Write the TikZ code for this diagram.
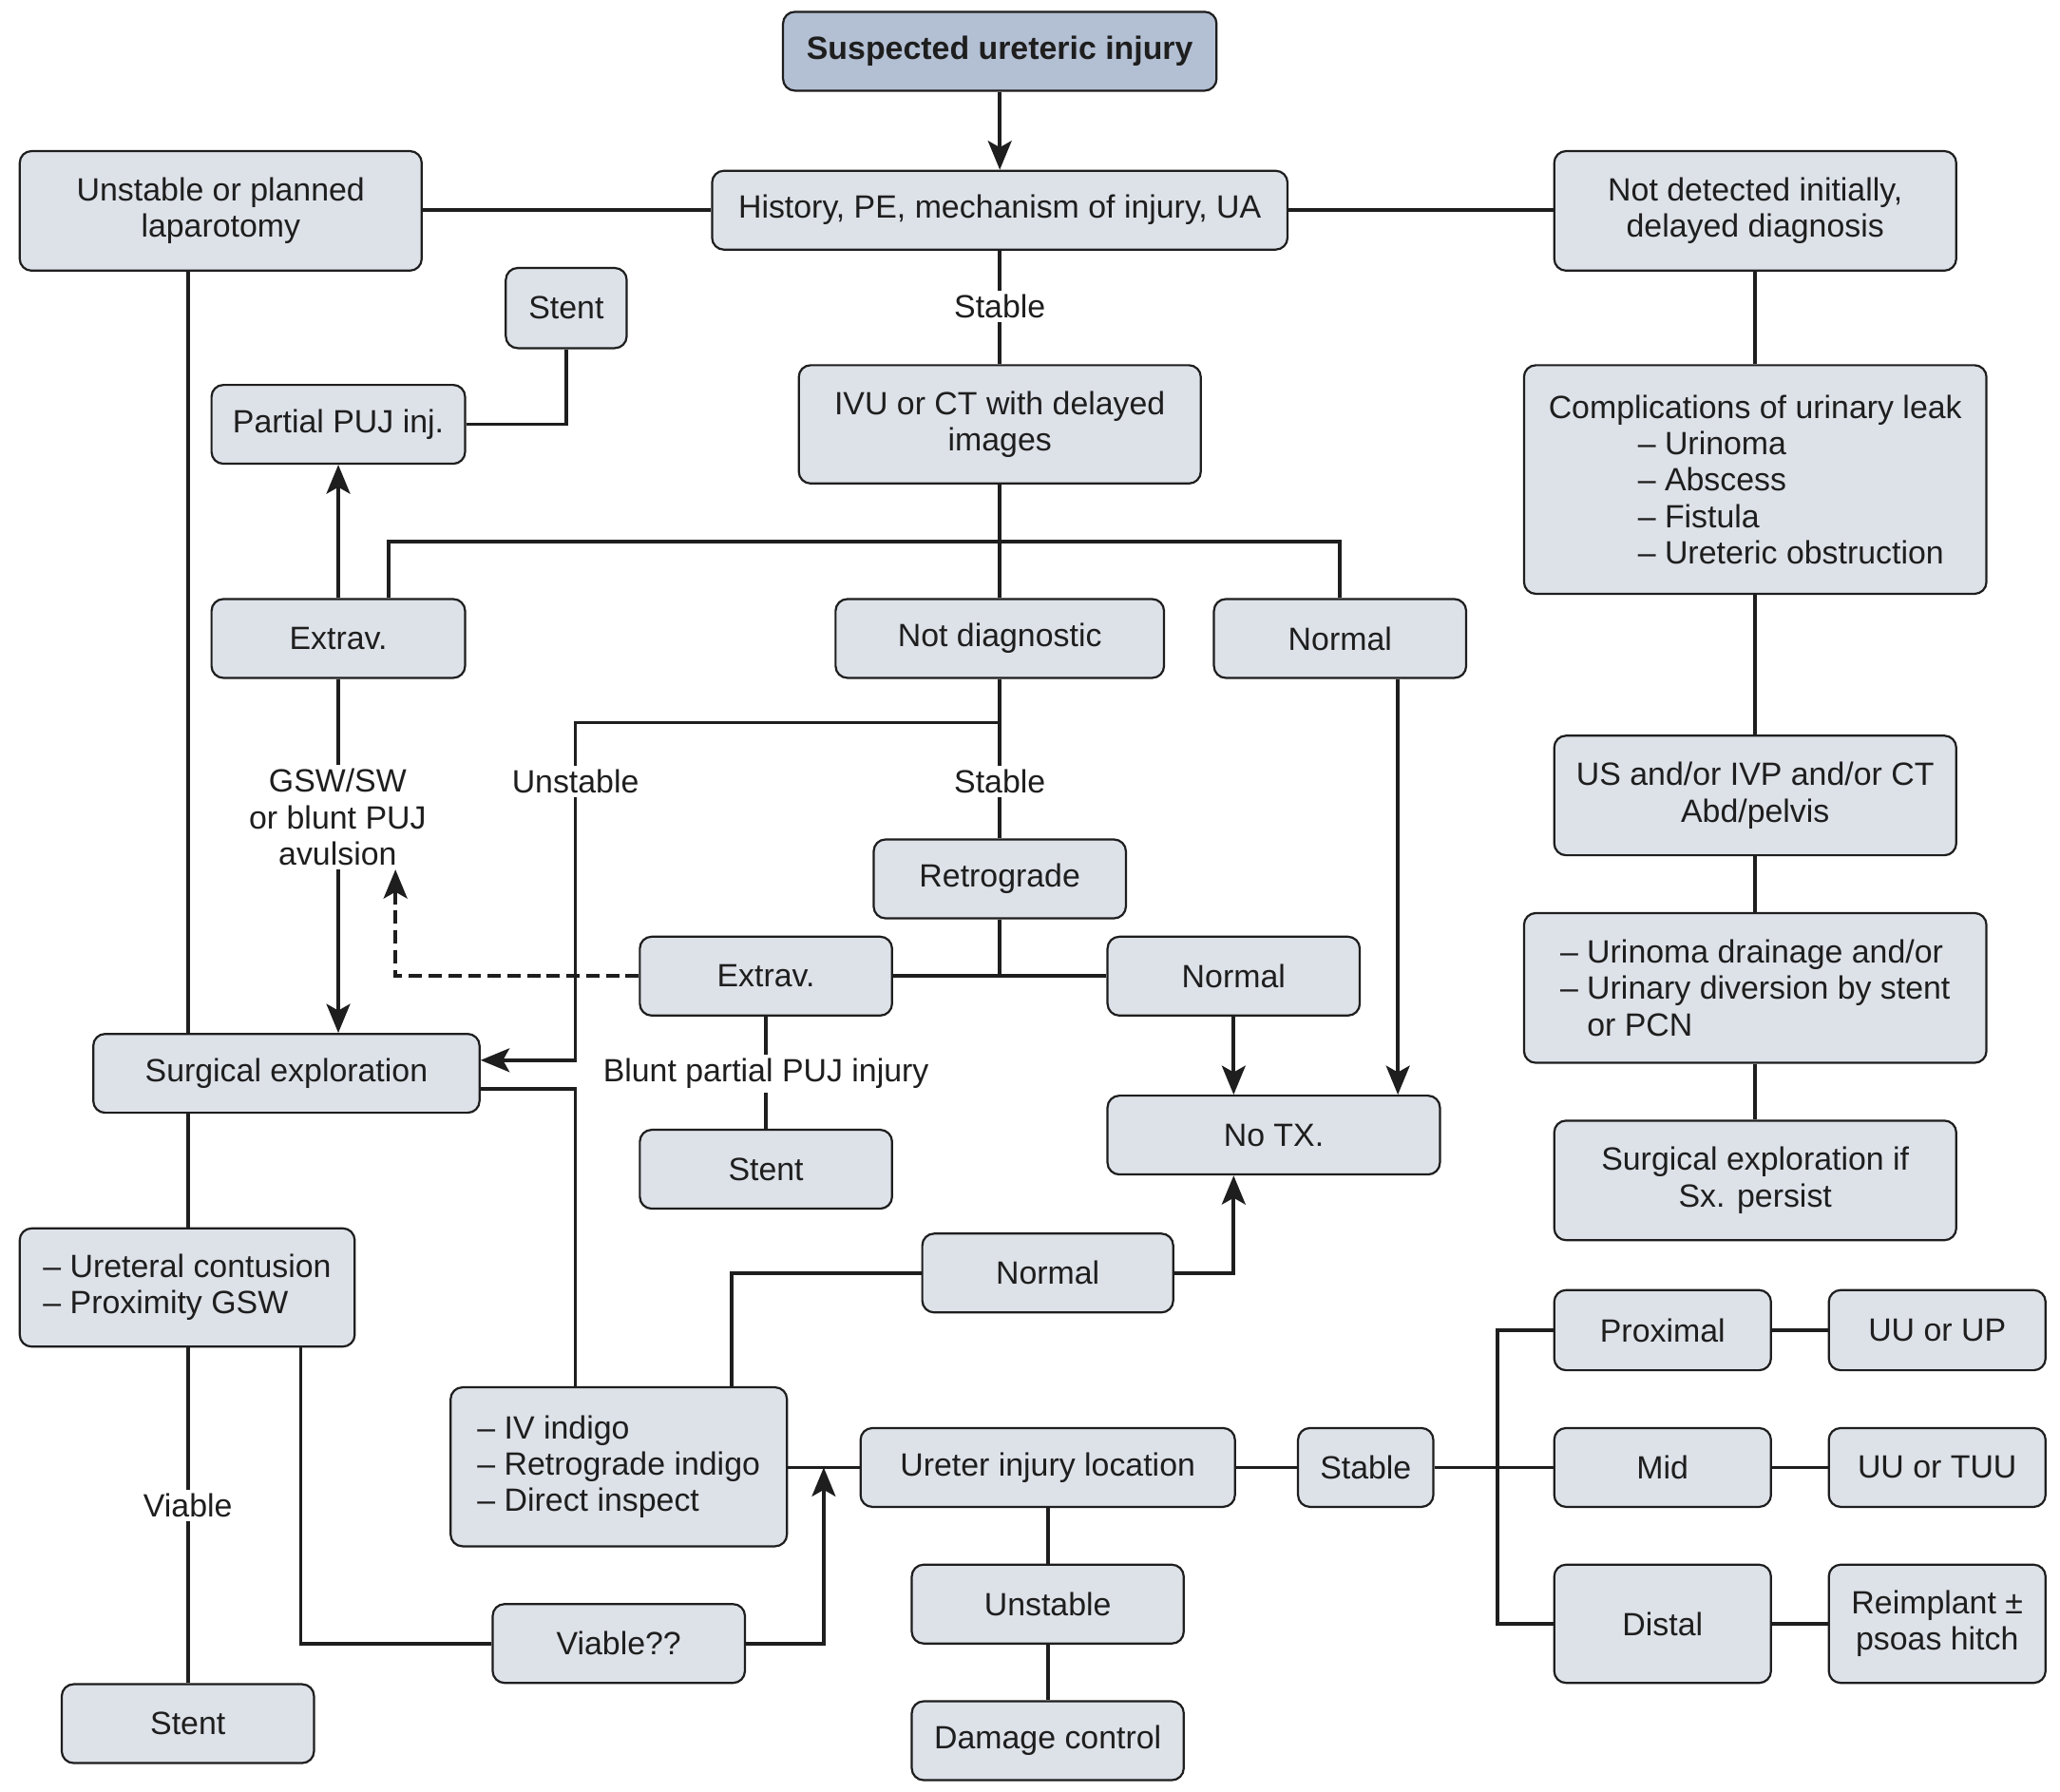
\documentclass[tikz,border=0pt]{standalone}
\usepackage{fontspec}
\setmainfont{Liberation Sans}
\usetikzlibrary{arrows.meta,calc}
\pgfdeclarelayer{background}
\pgfsetlayers{background,main}
\definecolor{boxfill}{HTML}{DDE1E8}
\definecolor{topfill}{HTML}{B3BFD3}
\definecolor{ink}{HTML}{1E1E1E}
\begin{document}
\begin{tikzpicture}[x=1pt,y=-1pt,
  box/.style={draw=ink, fill=boxfill, line width=1.6pt, rounded corners=9pt, align=center, inner sep=0pt, font=\fontsize{24.5}{27.7}\selectfont, text=ink},
  lbl/.style={fill=white, inner sep=3pt, align=center, font=\fontsize{24.5}{27.7}\selectfont, text=ink},
  con/.style={draw=ink, line width=2.7pt},
  arr/.style={con, -{Stealth[length=22pt 0 0,width=18pt 0 0,inset=5pt 0]}},
  dsh/.style={dash pattern=on 10pt off 5pt}
]
\useasboundingbox (0,0) rectangle (1568,1364);
% helper coordinates
\coordinate (xA) at (143,0);
\coordinate (xB) at (229,0);
\coordinate (xC) at (296,0);
\coordinate (xD) at (301,0);
\coordinate (xE) at (438,0);
\coordinate (xF) at (557,0);
\coordinate (xG) at (627,0);
\coordinate (xH) at (1064,0);
\coordinate (xI) at (1140,0);
\coordinate (yK) at (0,412);
\coordinate (yL) at (0,550);

% boxes
\node[box, fill=topfill, minimum width=330pt, minimum height=60pt, font=\fontsize{24.5}{27.7}\selectfont\bfseries] (top) at (761,39) {Suspected ureteric injury};
\node[box, minimum width=438pt, minimum height=60pt] (hist) at (761,160) {History, PE, mechanism of injury, UA};
\node[box, minimum width=306pt, minimum height=91pt] (unst) at (168,160.5) {Unstable or planned\\laparotomy};
\node[box, minimum width=306pt, minimum height=91pt] (notdet) at (1336,160.5) {Not detected initially,\\delayed diagnosis};
\node[box, minimum width=92pt, minimum height=61pt] (stent1) at (431,234.5) {Stent};
\node[box, minimum width=193pt, minimum height=60pt] (puj) at (257.5,323) {Partial PUJ inj.};
\node[box, minimum width=306pt, minimum height=90pt] (ivu) at (761,323) {IVU or CT with delayed\\images};
\node[box, minimum width=352pt, minimum height=174pt, align=left] (compl) at (1336,365) {Complications of urinary leak\\\hspace{68pt}– Urinoma\\\hspace{68pt}– Abscess\\\hspace{68pt}– Fistula\\\hspace{68pt}– Ureteric obstruction};
\node[box, minimum width=193pt, minimum height=60pt] (extrav1) at (257.5,486) {Extrav.};
\node[box, minimum width=250pt, minimum height=60pt] (notdiag) at (761,486) {Not diagnostic};
\node[box, minimum width=192pt, minimum height=60pt] (normal1) at (1020,486) {Normal};
\node[box, minimum width=306pt, minimum height=91pt] (us) at (1336,605.5) {US and/or IVP and/or CT\\Abd/pelvis};
\node[box, minimum width=192pt, minimum height=60pt] (retro) at (761,669) {Retrograde};
\node[box, minimum width=192pt, minimum height=60pt] (extrav2) at (583,743) {Extrav.};
\node[box, minimum width=192pt, minimum height=60pt] (normal2) at (939,743) {Normal};
\node[box, minimum width=352pt, minimum height=114pt, align=left] (urinoma) at (1336,752) {– Urinoma drainage and/or\\– Urinary diversion by stent\\\phantom{– }or PCN};
\node[box, minimum width=294pt, minimum height=60pt] (surg) at (218,817) {Surgical exploration};
\node[box, minimum width=192pt, minimum height=60pt] (stent2) at (583,890) {Stent};
\node[box, minimum width=253pt, minimum height=60pt] (notx) at (969.5,864) {No TX.};
\node[box, minimum width=306pt, minimum height=91pt] (surgif) at (1336,898.5) {Surgical exploration if\\Sx. persist};
\node[box, minimum width=255pt, minimum height=90pt, align=left] (contusion) at (142.5,980) {– Ureteral contusion\\– Proximity GSW};
\node[box, minimum width=191pt, minimum height=60pt] (normal3) at (797.5,969) {Normal};
\node[box, minimum width=165pt, minimum height=61pt] (prox) at (1265.5,1012.5) {Proximal};
\node[box, minimum width=165pt, minimum height=61pt] (uuup) at (1474.5,1012.5) {UU or UP};
\node[box, minimum width=256pt, minimum height=121pt, align=left] (indigo) at (471,1116.5) {– IV indigo\\– Retrograde indigo\\– Direct inspect};
\node[box, minimum width=285pt, minimum height=60pt] (loc) at (797.5,1117) {Ureter injury location};
\node[box, minimum width=103pt, minimum height=60pt] (stable2) at (1039.5,1117) {Stable};
\node[box, minimum width=165pt, minimum height=60pt] (mid) at (1265.5,1117) {Mid};
\node[box, minimum width=165pt, minimum height=60pt] (uutuu) at (1474.5,1117) {UU or TUU};
\node[box, minimum width=207pt, minimum height=60pt] (unstable2) at (797.5,1221) {Unstable};
\node[box, minimum width=192pt, minimum height=60pt] (viable) at (471,1251) {Viable??};
\node[box, minimum width=165pt, minimum height=90pt] (distal) at (1265.5,1236) {Distal};
\node[box, minimum width=165pt, minimum height=90pt] (reimpl) at (1474.5,1236) {Reimplant ±\\psoas hitch};
\node[box, minimum width=192pt, minimum height=60pt] (stent3) at (143,1312) {Stent};
\node[box, minimum width=207pt, minimum height=60pt] (damage) at (797.5,1325) {Damage control};

% labels on connectors
\node[lbl] (lstable1) at (761,233) {Stable};
\node[lbl] (gsw) at (257,622) {GSW/SW\\or blunt PUJ\\avulsion};
\node[lbl] (lunst) at (438,595) {Unstable};
\node[lbl] (lstable2) at (761,595) {Stable};
\node[lbl] (lblunt) at (583,817) {Blunt partial PUJ injury};
\node[lbl] (lviable) at (143,1146) {Viable};

\coordinate (surgU) at ($(surg.east)+(0,-10)$);
\coordinate (surgL) at ($(surg.east)+(0,12)$);

\begin{pgfonlayer}{background}
\fill[white] (0,0) rectangle (1568,1364);
\draw[arr] (top.south) -- (hist.north);
\draw[con] (hist.west -| unst.east) -- (hist.west);
\draw[con] (hist.east) -- (hist.east -| notdet.west);
\draw[con] (hist.south) -- (ivu.north);
\draw[con] (notdet.south) -- (compl.north);
\draw[con] (compl.south) -- (us.north);
\draw[con] (us.south) -- (urinoma.north);
\draw[con] (urinoma.south) -- (surgif.north);
\draw[con] (unst.south -| xA) -- (surg.north -| xA);
\draw[con] (stent1.south) |- (puj.east);
\draw[arr] (extrav1.north) -- (puj.south);
\draw[con] (ivu.south) -- (notdiag.north);
\draw[con] (extrav1.north -| xC) |- (normal1.north |- yK) -- (normal1.north);
\draw[arr] (extrav1.south) -- (extrav1.south |- surg.north);
\draw[arr] (notdiag.south) |- (xE |- yL) -- (xE |- surgU) -- (surgU);
\draw[con] (notdiag.south) -- (retro.north);
\draw[con] (extrav2.east) -- (normal2.west);
\draw[con] (retro.south) -- (retro.south |- extrav2.east);
\draw[arr, dsh] (extrav2.west) -| (xD |- gsw.south);
\draw[con] (extrav2.south) -- (stent2.north);
\draw[arr] (normal2.south) -- (normal2.south |- notx.north);
\draw[arr] (normal1.south -| xH) -- (notx.north -| xH);
\draw[con] (surgL) -| (xE |- indigo.north);
\draw[con] (surg.south -| xA) -- (contusion.north -| xA);
\draw[con] (contusion.south -| xA) -- (stent3.north -| xA);
\draw[con] (contusion.south -| xB) |- (viable.west);
\draw[arr] (viable.east) -| (xG |- loc.west);
\draw[con] (indigo.east |- loc.west) -- (loc.west);
\draw[con] (indigo.north -| xF) |- (normal3.west);
\draw[arr] (normal3.east) -| (normal2.south |- notx.south);
\draw[con] (loc.east) -- (stable2.west);
\draw[con] (stable2.east) -- (mid.west);
\draw[con] (prox.west) -| (xI |- distal.west) -- (distal.west);
\draw[con] (prox.east) -- (uuup.west);
\draw[con] (mid.east) -- (uutuu.west);
\draw[con] (distal.east) -- (reimpl.west);
\draw[con] (loc.south) -- (unstable2.north);
\draw[con] (unstable2.south) -- (damage.north);
\end{pgfonlayer}
\end{tikzpicture}
\end{document}
